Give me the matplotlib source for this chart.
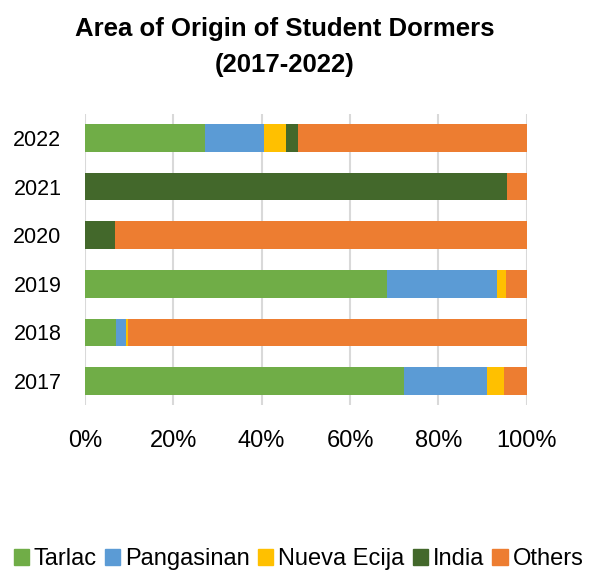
#!/usr/bin/env python3
"""Stacked horizontal bars: area of origin of student dormers, 2017-2022."""
import matplotlib

matplotlib.use("Agg")
import matplotlib.pyplot as plt  # noqa: E402
from matplotlib.patches import Patch  # noqa: E402

years = ["2017", "2018", "2019", "2020", "2021", "2022"]
regions = ["Tarlac", "Pangasinan", "Nueva Ecija", "India", "Others"]
tarlac = [72.2, 7.0, 68.4, 0.0, 0.0, 27.2]
pangasinan = [18.8, 2.3, 24.9, 0.0, 0.0, 13.3]
nueva_ecija = [3.8, 0.4, 2.1, 0.0, 0.0, 4.9]
india = [0.0, 0.0, 0.0, 6.7, 95.5, 2.8]
others = [5.2, 90.3, 4.6, 93.3, 4.5, 51.8]
colors = ["#70AD47", "#5B9BD5", "#FFC000", "#43682B", "#ED7D31"]

plt.rcParams["font.family"] = ["Liberation Sans", "DejaVu Sans"]

fig = plt.figure(figsize=(5.91, 5.71), dpi=100)
ax = fig.add_axes((85 / 591, 1 - 405.3 / 571, 441.7 / 591, 291.6 / 571))

left = [0.0] * len(years)
for name, vals, c in zip(regions, [tarlac, pangasinan, nueva_ecija, india, others], colors):
    ax.barh(years, vals, left=left, height=0.57, color=c, label=name, zorder=3)
    left = [a + b for a, b in zip(left, vals)]

ax.set_xlim(0, 100)
ax.set_ylim(-0.5, 5.5)
ax.set_xticks([0, 20, 40, 60, 80, 100])
ax.set_xticklabels([f"{t}%" for t in [0, 20, 40, 60, 80, 100]])
ax.grid(axis="x", color="#d9d9d9", lw=1.5, zorder=0)
for s in ax.spines.values():
    s.set_visible(False)
ax.tick_params(length=0, labelsize=17)
ax.tick_params(axis="x", pad=18)
ax.tick_params(axis="y", pad=17, labelsize=15.5)

fig.text(285 / 591, 1 - 29 / 571, "Area of Origin of Student Dormers", ha="center", va="center",
         fontsize=18.5, fontweight="bold")
fig.text(285 / 591, 1 - 65 / 571, "(2017-2022)", ha="center", va="center",
         fontsize=18.5, fontweight="bold")

handles = [Patch(color=c, label=n) for n, c in zip(regions, colors)]
fig.legend(handles=handles, loc="center", bbox_to_anchor=(0.505, 1 - 559 / 571), ncol=5,
           frameon=False, fontsize=17, handlelength=0.65, handleheight=0.65,
           handletextpad=0.2, columnspacing=0.35, borderaxespad=0, borderpad=0)

fig.savefig("out.png", dpi=100)
